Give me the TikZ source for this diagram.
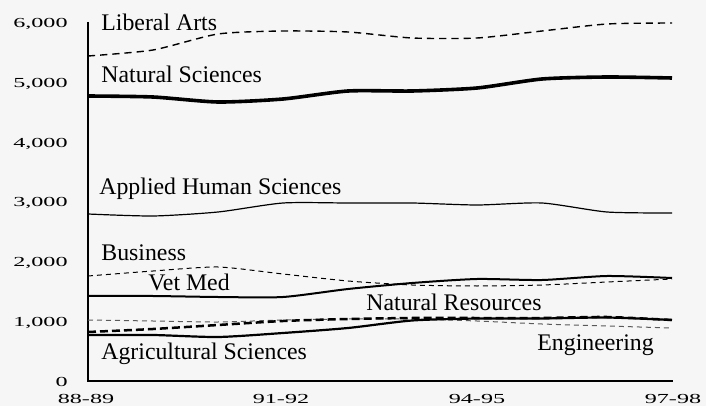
\documentclass[tikz,border=0pt]{standalone}
\usepackage{fontspec}
\setmainfont{Liberation Serif}
\newfontfamily\labfont{Liberation Serif}
\newfontfamily\tickfont[FakeStretch=1.75]{Liberation Serif}
\definecolor{bgc}{RGB}{246,246,246}
\definecolor{enggray}{RGB}{90,90,90}
\tikzset{
  lbl/.style={anchor=base west, inner sep=0pt, font=\labfont\fontsize{11.9}{14}\selectfont},
  ylab/.style={anchor=east, inner sep=0pt, font=\tickfont\fontsize{6.9}{8}\selectfont},
  xlab/.style={anchor=center, inner sep=0pt, font=\tickfont\fontsize{6.9}{8}\selectfont},
  axisline/.style={line width=0.65pt},
  series/.style={smooth, tension=0.4},
  libarts/.style={line width=0.7pt, dash pattern=on 3.6pt off 2.5pt},
  natsci/.style={line width=1.8pt},
  ahs/.style={line width=0.6pt},
  bus/.style={line width=0.5pt, dash pattern=on 2.5pt off 2pt},
  vetmed/.style={line width=1pt},
  engr/.style={line width=0.5pt, enggray, dash pattern=on 2.5pt off 2pt},
  natres/.style={line width=1.25pt, dash pattern=on 4pt off 2pt},
  agsci/.style={line width=1.1pt},
}
\begin{document}
\begin{tikzpicture}[x=0.5pt, y=-0.5pt]
\fill[bgc] (0,0) rectangle (706,406);
\useasboundingbox (0,0) rectangle (706,406);
% axes
\coordinate (ytop) at (88,22);
\coordinate (orig) at (88,381);
\coordinate (xend) at (673,381);
\draw[axisline] (ytop) -- (orig) -- (xend);
% y labels
\node[ylab] (y6) at (68,23.5) {6,000};
\node[ylab] (y5) at (68,83.5) {5,000};
\node[ylab] (y4) at (68,143.5) {4,000};
\node[ylab] (y3) at (68,203) {3,000};
\node[ylab] (y2) at (68,263) {2,000};
\node[ylab] (y1) at (68,322.5) {1,000};
\node[ylab] (y0) at (68,382) {0};
% x labels
\node[xlab] (x1) at (86,399) {88-89};
\node[xlab] (x2) at (281,399) {91-92};
\node[xlab] (x3) at (477,399) {94-95};
\node[xlab] (x4) at (673,399) {97-98};
% series
\draw[libarts] plot[series] coordinates {(88,56) (153,50) (218,34) (283,31) (348,32) (412,38) (477,38) (542,31) (607,24) (672,23)};
\draw[natsci] plot[series] coordinates {(88,96) (153,97) (218,102) (283,99) (348,91) (412,91) (477,88) (542,79) (607,77) (672,78)};
\draw[ahs] plot[series] coordinates {(88,214) (153,216) (218,212) (283,203) (348,203) (412,203) (477,205) (542,203) (607,212) (672,213)};
\draw[bus] plot[series] coordinates {(88,276) (153,271) (218,267) (283,274) (348,281) (412,285) (477,286) (542,285) (607,282) (672,279)};
\draw[vetmed] plot[series] coordinates {(88,296) (153,296) (218,297) (283,297) (348,289) (412,283) (477,279) (542,280) (607,276) (672,278)};
\draw[engr] plot[series] coordinates {(88,320) (153,321) (218,322) (283,320) (348,319) (412,319) (477,321) (542,324) (607,326) (672,328)};
\draw[natres] plot[series] coordinates {(88,332) (153,329) (218,325) (283,321) (348,319) (412,318) (477,318) (542,318) (607,317) (672,320)};
\draw[agsci] plot[series] coordinates {(88,335) (153,335) (218,337) (283,333) (348,328) (412,320.5) (477,318.5) (542,318.5) (607,317.5) (672,320)};
% labels
\node[lbl] (lLA) at (101,31) {Liberal Arts};
\node[lbl] (lNS) at (101,83) {Natural Sciences};
\node[lbl] (lAHS) at (99,195) {Applied Human Sciences};
\node[lbl] (lBus) at (101,260) {Business};
\node[lbl] (lVet) at (148,290) {Vet Med};
\node[lbl] (lNR) at (366,310) {Natural Resources};
\node[lbl] (lEng) at (537,350) {Engineering};
\node[lbl] (lAg) at (101,359) {Agricultural Sciences};
\end{tikzpicture}
\end{document}
